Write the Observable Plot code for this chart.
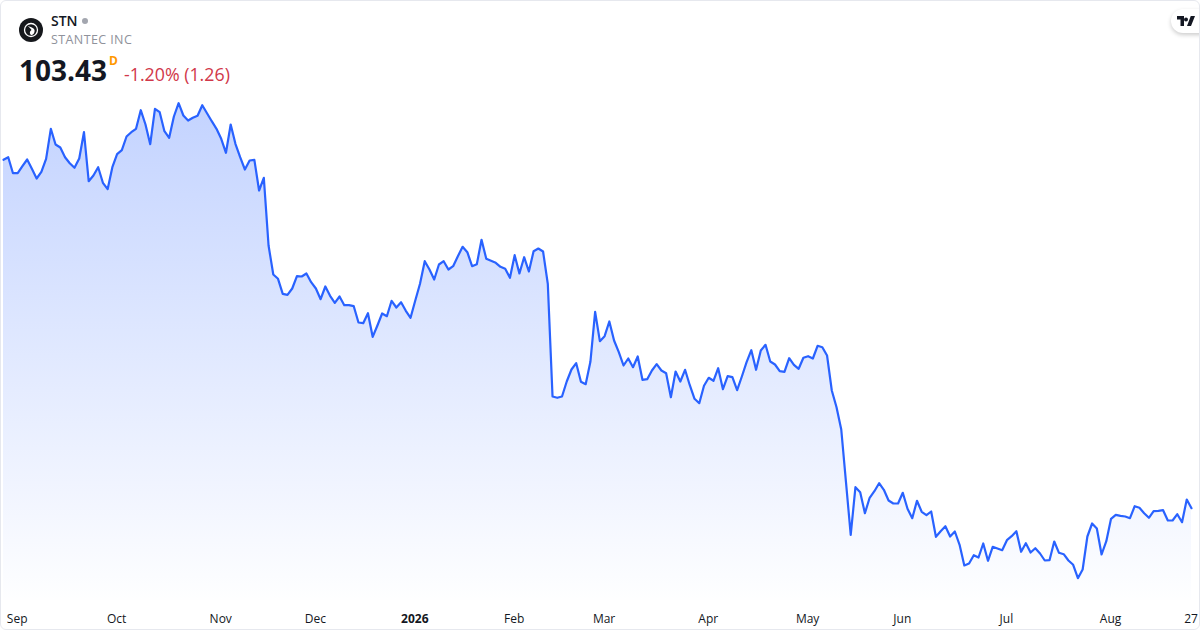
<!DOCTYPE html>
<html><head><meta charset="utf-8">
<script src="https://cdn.jsdelivr.net/npm/d3@7"></script>
<script src="https://cdn.jsdelivr.net/npm/@observablehq/plot@0.6"></script>
<style>
html,body{margin:0;padding:0;background:#fff}
#card{position:relative;width:1200px;height:630px;overflow:hidden;font-family:"Open Sans",sans-serif;background:#fff}
#frame{position:absolute;inset:0;box-sizing:border-box;border:1px solid #e6e8ee;border-radius:6px;pointer-events:none}
#chart{position:absolute;left:0;top:0}
#chart svg{display:block}
.t{position:absolute;white-space:nowrap;line-height:1}
</style></head><body>
<div id="card">
<div id="chart"></div>
<svg class="t" style="left:19px;top:18px" width="24" height="24" viewBox="0 0 24 24"><circle cx="12" cy="12" r="12" fill="#16181c"/><circle cx="12" cy="12" r="6.500" fill="none" stroke="#fff" stroke-width="1.300"/><path d="M9 8 C11 9 15 9.500 15.500 12 C16 15 14 17 12 17 C10 15 11 13 12.500 12 C12 10.500 10 9.500 9 8Z" fill="#fff"/></svg>
<div class="t" style="left:51px;top:14px;font-size:14px;font-weight:600;color:#131722">STN</div>
<svg class="t" style="left:81px;top:17px" width="8" height="8"><circle cx="4" cy="4" r="3" fill="#a3a6af"/></svg>
<div class="t" style="left:51px;top:34px;font-size:12.500px;color:#8f929b;letter-spacing:.4px">STANTEC INC</div>
<div class="t" style="left:19px;top:56px;font-size:28px;font-weight:700;color:#131722">103.43</div>
<div class="t" style="left:109px;top:55px;font-size:12px;font-weight:700;color:#ff9800">D</div>
<div class="t" style="left:124px;top:66px;font-size:17.800px;color:#d1384a">-1.20% (1.26)</div>
<div class="t" style="left:1171px;top:9px;width:50px;height:24px;border-radius:12px;background:#fff;box-shadow:0 2px 4px rgba(0,0,0,.2)"></div>
<svg class="t" style="left:1177px;top:16px" width="18" height="10" viewBox="0 0 36 20"><path d="M14 20H7V7H0V0h14v20ZM28 20h-8l7.500-20H36l-8 20ZM22 7a4 4 0 1 1-8 0 4 4 0 0 1 8 0Z" fill="#131722"/></svg>
<div id="frame"></div>
</div>
<script>
const prices = [138.27,138.53,136.93,136.93,137.63,138.30,137.37,136.40,137.07,138.37,141.37,139.80,139.50,138.53,137.93,137.47,138.40,141.03,136.13,136.70,137.53,135.97,135.33,137.53,138.83,139.23,140.60,141.03,141.37,143.23,141.80,139.83,143.37,143.03,141.13,140.47,142.60,143.93,142.70,142.20,142.47,142.67,143.73,142.93,142.13,141.37,140.37,138.97,141.80,139.87,138.53,137.30,138.20,138.27,135.20,136.47,
129.70,126.80,126.37,124.87,124.77,125.40,126.63,126.60,126.90,126.03,125.40,124.33,125.60,124.67,123.97,124.60,123.73,123.73,123.63,122.00,121.93,122.93,120.57,121.70,122.90,122.63,124.17,123.50,124.03,123.17,122.47,124.20,125.87,128.13,127.30,126.30,127.80,128.13,127.30,127.63,128.63,129.57,129.03,127.63,127.83,130.27,128.37,128.17,127.97,127.57,127.37,126.47,128.73,126.90,128.53,127.10,129.13,129.40,129.10,125.87,
114.60,114.47,114.60,116.10,117.30,117.93,116.07,115.83,118.07,123.07,120.13,120.63,122.10,120.20,119.03,117.70,118.40,117.53,118.60,116.27,116.33,117.20,117.83,117.20,116.93,114.53,117.10,116.10,117.27,115.73,114.37,113.93,115.67,116.47,116.17,117.43,115.33,116.63,116.53,115.23,116.60,118.03,119.23,117.27,119.20,119.77,118.10,117.80,117.13,117.07,118.43,117.77,117.37,118.47,118.63,118.40,119.67,119.53,118.70,115.20,113.53,111.30,
106.03,100.77,105.53,105.03,102.93,104.47,105.13,105.93,105.27,104.20,103.90,103.90,104.97,103.37,102.43,104.17,103.07,102.73,103.10,100.57,101.13,101.63,100.60,101.10,99.77,97.70,97.90,98.73,98.50,99.90,98.17,99.57,99.40,99.23,100.23,100.63,101.13,99.07,99.93,99.00,99.43,98.90,98.20,98.23,100.10,98.97,98.83,98.20,97.77,96.43,97.30,100.60,101.90,101.40,98.80,100.13,102.37,102.77,102.67,102.60,102.43,103.63,103.47,102.93,102.47,103.13,103.17,103.23,102.20,102.20,102.83,102.03,104.30,103.43];
const sessions = prices.map((_, i) => i);
const monthLabels = ["Sep","Oct","Nov","Dec","Feb","Mar","Apr","May","Jun","Jul","Aug","27"];
const monthSessions = [3,24,46,66,108,127,149,170,190,212,234,251];
const yearLabels = ["2026"];
const yearSessions = [87];
const baseline = 94.2;
const rows = prices.map((p, i) => ({s: sessions[i], p}));

const gradient = () => {
  const ns = "http://www.w3.org/2000/svg";
  const defs = document.createElementNS(ns, "defs");
  defs.innerHTML = `<linearGradient id="fade" x1="0" y1="0" x2="0" y2="1">
    <stop offset="0" stop-color="#2962ff" stop-opacity="0.28"/>
    <stop offset="1" stop-color="#2962ff" stop-opacity="0.005"/></linearGradient>`;
  return defs;
};

const plot = Plot.plot({
  width: 1200, height: 630,
  marginTop: 0, marginRight: 0, marginBottom: 0, marginLeft: 0,
  x: {type: "linear", domain: [0, 251], range: [3, 1191], axis: null},
  y: {type: "linear", domain: [91.2, 154.2], range: [630, 0], axis: null},
  style: {background: "transparent", fontFamily: '"Open Sans", sans-serif'},
  marks: [
    gradient,
    Plot.areaY(rows, {x: "s", y1: baseline, y2: "p", fill: "url(#fade)", curve: "linear"}),
    Plot.lineY(rows, {x: "s", y: "p", stroke: "#2962ff", strokeWidth: 2.2, curve: "linear"}),
    Plot.text(monthLabels, {x: (d, i) => monthSessions[i], text: d => d, frameAnchor: "bottom", lineAnchor: "bottom", dx: -0.5, dy: -8, fontSize: 12, fill: "#131722"}),
    Plot.text(yearLabels, {x: (d, i) => yearSessions[i], text: d => d, frameAnchor: "bottom", lineAnchor: "bottom", dx: -0.5, dy: -8, fontSize: 12, fontWeight: 700, fill: "#131722"})
  ]
});
document.getElementById("chart").appendChild(plot);
</script>
</body></html>
